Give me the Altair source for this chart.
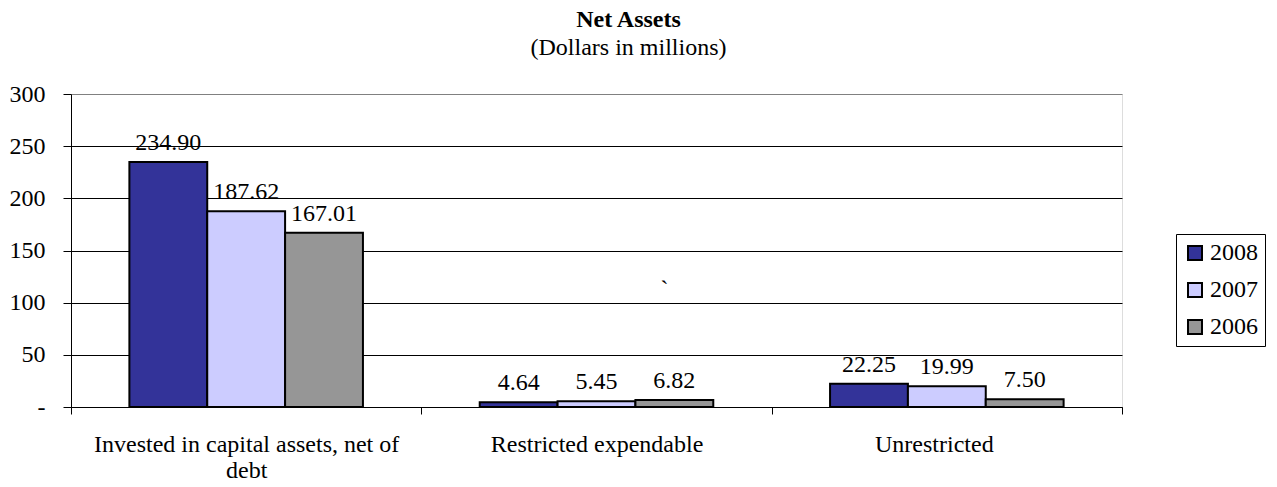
import altair as alt
import pandas as pd

categories = ["Invested in capital assets, net of debt", "Restricted expendable", "Unrestricted"]
years = ["2008", "2007", "2006"]
values_2008 = [234.90, 4.64, 22.25]
values_2007 = [187.62, 5.45, 19.99]
values_2006 = [167.01, 6.82, 7.50]
colors = ["#333399", "#CCCCFF", "#969696"]
y_ticks = [0, 50, 100, 150, 200, 250, 300]

rows = []
for yr, vals in zip(years, [values_2008, values_2007, values_2006]):
    for c, v in zip(categories, vals):
        rows.append({"category": c, "year": yr, "value": v})
df = pd.DataFrame(rows)

# stray mark seen in the original chart
stray = pd.DataFrame({"category": ["Restricted expendable"], "value": [112], "txt": ["`"]})

FONT = "Liberation Serif"

x_enc = alt.X(
    "category:N",
    sort=categories,
    scale=alt.Scale(paddingInner=0, paddingOuter=0),
    axis=alt.Axis(
        title=None,
        labelAngle=0,
        labelFont=FONT,
        labelFontSize=24,
        labelColor="black",
        labelPadding=18,
        labelLimit=0,
        labelLineHeight=26,
        labelBaseline="top",
        labelOffset=alt.condition("datum.value == 'Unrestricted'", alt.value(-13), alt.value(0)),
        labelExpr="datum.label == 'Invested in capital assets, net of debt' ? ['Invested in capital assets, net of', 'debt'] : datum.label",
        tickBand="extent",
        tickSize=7,
        tickColor="black",
        domainColor="black",
        grid=False,
    ),
)
xoff_enc = alt.XOffset(
    "year:N", sort=years, scale=alt.Scale(paddingInner=0, paddingOuter=0.75)
)
y_enc = alt.Y(
    "value:Q",
    scale=alt.Scale(domain=[0, 300], nice=False),
    axis=alt.Axis(
        title=None,
        values=y_ticks,
        labelFont=FONT,
        labelFontSize=24,
        labelColor="black",
        labelPadding=18,
        labelExpr="datum.value == 0 ? '-' : datum.label",
        tickSize=8,
        tickColor="black",
        domainColor="black",
        grid=True,
        gridColor=alt.condition("datum.value == 300", alt.value("#808080"), alt.value("#000000")),
        gridWidth=1,
    ),
)

bars = alt.Chart(df).mark_bar(stroke="black", strokeWidth=2).encode(
    x=x_enc,
    xOffset=xoff_enc,
    y=y_enc,
    color=alt.Color(
        "year:N",
        sort=years,
        scale=alt.Scale(domain=years, range=colors),
        legend=alt.Legend(
            title=None,
            orient="none",
            legendX=1105,
            legendY=140,
            strokeColor="black",
            padding=7,
            symbolType="square",
            symbolSize=196,
            symbolStrokeColor="black",
            symbolStrokeWidth=2,
            labelFont=FONT,
            labelFontSize=24,
            labelColor="black",
            labelOffset=3,
            rowPadding=13,
            symbolOpacity=1,
        ),
    ),
)

labels = alt.Chart(df).mark_text(
    font=FONT, fontSize=24, color="black", baseline="alphabetic", dy=-12
).encode(
    x=alt.X("category:N", sort=categories),
    xOffset=alt.XOffset("year:N", sort=years),
    y="value:Q",
    text=alt.Text("value:Q", format=".2f"),
)

stray_txt = alt.Chart(stray).mark_text(
    font=FONT, fontSize=24, color="black", dx=68
).encode(
    x=alt.X("category:N", sort=categories),
    y="value:Q",
    text="txt:N",
)

chart = alt.layer(bars, labels, stray_txt).properties(
    width=1051,
    height=313,
    autosize=alt.AutoSizeParams(type="none"),
    padding={"left": 63, "top": 86, "right": 147, "bottom": 72},
    title=alt.TitleParams(
        text="Net Assets",
        subtitle="(Dollars in millions)",
        font=FONT,
        fontSize=24,
        fontWeight="bold",
        color="black",
        subtitleFont=FONT,
        subtitleFontSize=24,
        subtitleColor="black",
        subtitlePadding=4,
        anchor="middle",
        dx=32,
        offset=22,
    ),
).configure_view(stroke="#808080", strokeWidth=1).configure(background="white")

chart.save("out.html", embed_options={"renderer": "svg", "actions": False})
